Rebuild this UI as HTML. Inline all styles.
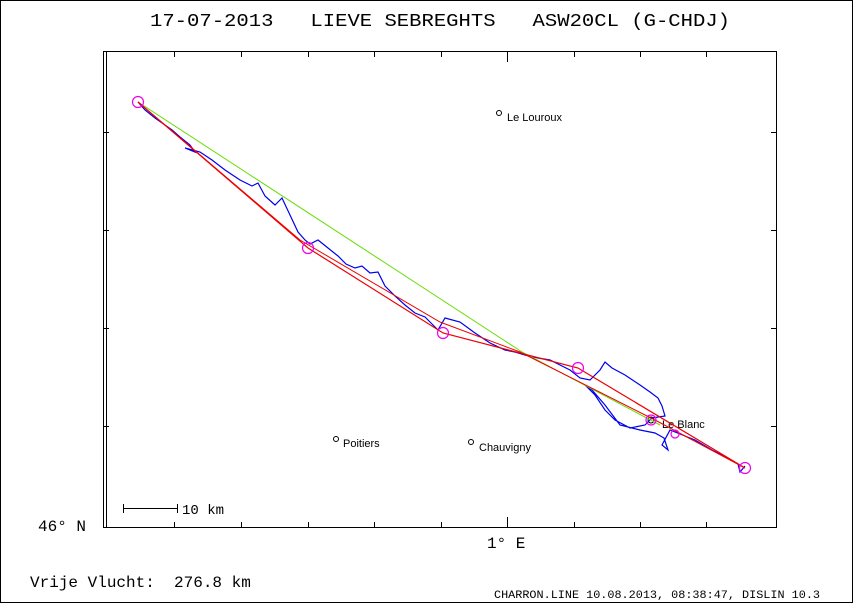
<!DOCTYPE html>
<html><head><style>
html,body{margin:0;padding:0;background:#fff;}
svg{display:block;font-family:"Liberation Mono",monospace;}
text{white-space:pre;}
</style></head><body>
<svg width="853" height="603" viewBox="0 0 853 603" xmlns="http://www.w3.org/2000/svg" xml:space="preserve">
<rect x="0.5" y="0.5" width="852" height="602" fill="#fff" stroke="#000"/>
<text x="440" y="26" font-size="18" text-anchor="middle" fill="#000" font-family="Liberation Mono, monospace" textLength="580" lengthAdjust="spacingAndGlyphs">17-07-2013   LIEVE SEBREGHTS   ASW20CL (G-CHDJ)</text>
<rect x="103.5" y="51.5" width="673" height="476" fill="none" stroke="#000"/>
<line x1="106.5" y1="52" x2="106.5" y2="527" stroke="#000"/>
<g stroke="#000">
<line x1="174.5" y1="52" x2="174.5" y2="57"/><line x1="241.5" y1="52" x2="241.5" y2="57"/><line x1="308.5" y1="52" x2="308.5" y2="57"/><line x1="374.5" y1="52" x2="374.5" y2="57"/><line x1="441.5" y1="52" x2="441.5" y2="57"/><line x1="507.5" y1="52" x2="507.5" y2="62"/><line x1="574.5" y1="52" x2="574.5" y2="57"/><line x1="640.5" y1="52" x2="640.5" y2="57"/><line x1="706.5" y1="52" x2="706.5" y2="57"/>
<line x1="174.5" y1="522" x2="174.5" y2="527"/><line x1="241.5" y1="522" x2="241.5" y2="527"/><line x1="308.5" y1="522" x2="308.5" y2="527"/><line x1="374.5" y1="522" x2="374.5" y2="527"/><line x1="441.5" y1="522" x2="441.5" y2="527"/><line x1="507.5" y1="517" x2="507.5" y2="527"/><line x1="574.5" y1="522" x2="574.5" y2="527"/><line x1="640.5" y1="522" x2="640.5" y2="527"/><line x1="706.5" y1="522" x2="706.5" y2="527"/>
<line x1="104" y1="132.5" x2="109" y2="132.5"/><line x1="104" y1="230.5" x2="109" y2="230.5"/><line x1="104" y1="328.5" x2="109" y2="328.5"/><line x1="104" y1="426.5" x2="109" y2="426.5"/>
<line x1="771" y1="132.5" x2="776" y2="132.5"/><line x1="771" y1="230.5" x2="776" y2="230.5"/><line x1="771" y1="328.5" x2="776" y2="328.5"/><line x1="771" y1="426.5" x2="776" y2="426.5"/>
<line x1="123" y1="508.5" x2="177" y2="508.5"/><line x1="123.5" y1="504" x2="123.5" y2="513"/><line x1="177.5" y1="504" x2="177.5" y2="513"/>
</g>
<text x="182" y="514" font-size="14" font-family="Liberation Mono, monospace">10 km</text>
<text x="38" y="531" font-size="16" font-family="Liberation Mono, monospace">46° N</text>
<text x="487" y="548" font-size="16" font-family="Liberation Mono, monospace">1° E</text>
<text x="30" y="587" font-size="16" font-family="Liberation Mono, monospace">Vrije Vlucht:  276.8 km</text>
<text x="494" y="598" font-size="11" font-family="Liberation Mono, monospace" textLength="326" lengthAdjust="spacingAndGlyphs">CHARRON.LINE 10.08.2013, 08:38:47, DISLIN 10.3</text>
<g font-family="Liberation Sans, sans-serif" font-size="11" fill="#000">
<circle cx="499" cy="113" r="2.5" fill="none" stroke="#000"/><text x="507" y="121">Le Louroux</text>
<circle cx="336" cy="439" r="2.5" fill="none" stroke="#000"/><text x="343" y="447">Poitiers</text>
<circle cx="471" cy="442" r="2.5" fill="none" stroke="#000"/><text x="479" y="451">Chauvigny</text>
<circle cx="651" cy="420" r="3" fill="none" stroke="#000"/><text x="662" y="428">Le Blanc</text>
</g>
<polyline fill="none" stroke="#0000ee" stroke-width="1.2" points="138,102 145,110 155,118 165,125 172,130 180,137 190,145 195,152 185,148 200,152 212,160 225,170 240,180 252,186 258,183 265,196 275,205 282,198 290,215 298,232 305,240 310,244 318,240 328,248 338,256 346,264 355,268 362,266 370,273 378,272 385,286 395,296 405,305 415,313 425,317 432,324 438,330 445,318 460,322 475,333 490,343 505,350 515,352 525,355 538,358 550,360 560,365 570,370 580,378 590,380 600,370 605,362 612,368 625,375 640,385 650,392 658,398 662,406 665,416 652,418 645,425 630,428 615,420 605,410 595,395 585,385 592,390 605,405 620,425 640,430 655,433 664,438 668,450 662,445 670,430 680,434 695,440 712,450 728,458 738,464 740,472 745,466"/>
<polyline fill="none" stroke="#66dd00" stroke-width="1" points="138,102 522,352 660,425"/>
<polyline fill="none" stroke="#ee0000" stroke-width="1.2" points="138,102 308,248 443,333 578,368 745,468"/>
<polyline fill="none" stroke="#ee0000" stroke-width="1" points="138,102 300,240 440,322 520,352 655,420 745,468"/>
<g fill="none" stroke="#ee00ee" stroke-width="1.2">
<circle cx="138" cy="102" r="5.5"/><circle cx="308" cy="248" r="5.5"/><circle cx="443" cy="333" r="5.5"/><circle cx="578" cy="368" r="5.5"/><circle cx="651" cy="420" r="5"/><circle cx="675" cy="434" r="4"/><circle cx="745" cy="468" r="5.5"/>
</g>
</svg>
</body></html>
